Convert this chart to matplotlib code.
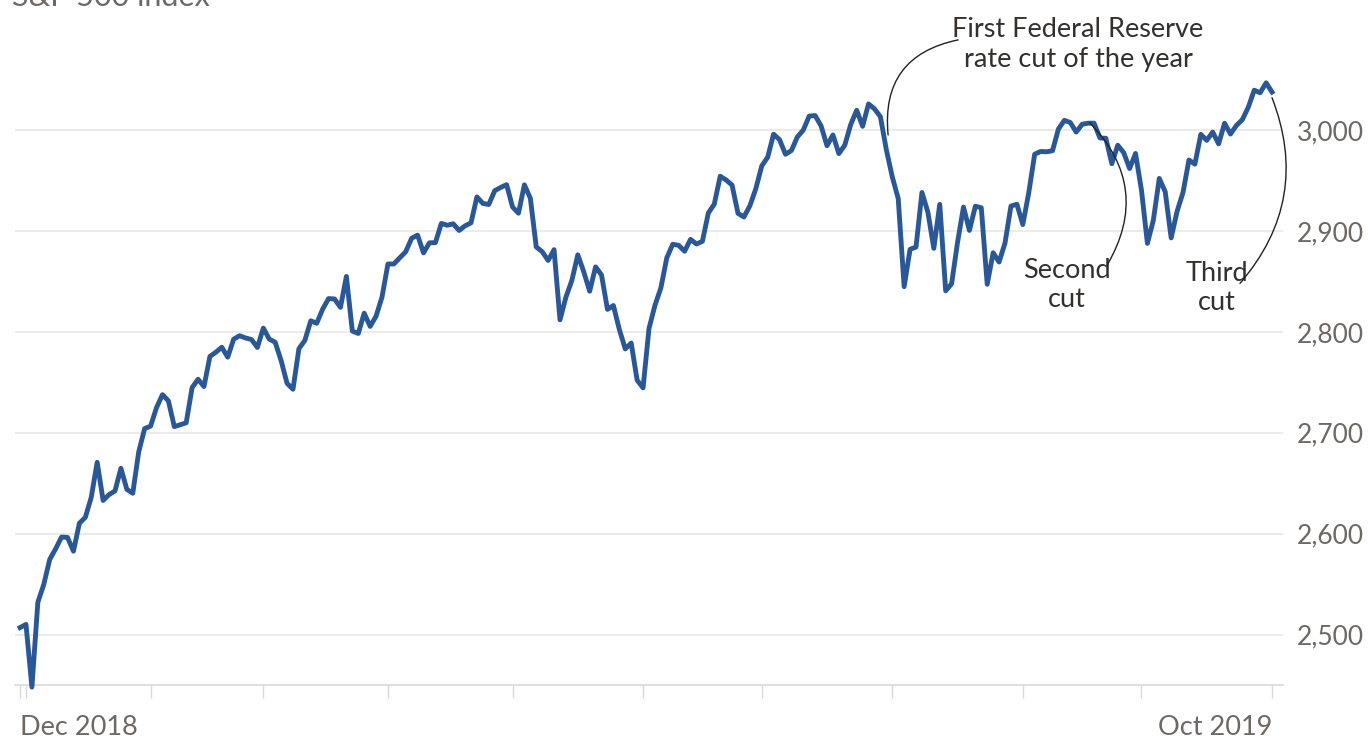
import matplotlib
matplotlib.use("Agg")
import matplotlib.pyplot as plt
import numpy as np
import pandas as pd

# S&P 500 daily closes, 31 Dec 2018 .. 31 Oct 2019 (one list per month)
DEC_2018 = [2506.85]
JAN = [2510.03, 2447.89, 2531.94, 2549.69, 2574.41, 2584.96, 2596.64, 2596.26,
       2582.61, 2610.30, 2616.10, 2635.96, 2670.71, 2632.90, 2638.70, 2642.33,
       2664.76, 2643.85, 2640.00, 2681.05, 2704.10]
FEB = [2706.53, 2724.87, 2737.70, 2731.61, 2706.05, 2707.88, 2709.80, 2744.73,
       2753.03, 2745.73, 2775.60, 2779.76, 2784.70, 2774.88, 2792.67, 2796.11,
       2793.90, 2792.38, 2784.49]
MAR = [2803.69, 2792.81, 2789.65, 2771.45, 2748.93, 2743.07, 2783.30, 2791.52,
       2810.92, 2808.48, 2822.48, 2832.94, 2832.57, 2824.23, 2854.88, 2800.71,
       2798.36, 2818.46, 2805.37, 2815.44, 2834.40]
APR = [2867.19, 2867.24, 2873.40, 2879.39, 2892.74, 2895.77, 2878.20, 2888.21,
       2888.32, 2907.41, 2905.58, 2907.06, 2900.45, 2905.03, 2907.97, 2933.68,
       2927.25, 2926.17, 2939.88, 2943.03, 2945.83]
MAY = [2923.73, 2917.52, 2945.64, 2932.47, 2884.05, 2879.42, 2870.72, 2881.40,
       2811.87, 2834.41, 2850.96, 2876.32, 2859.53, 2840.23, 2864.36, 2856.27,
       2822.24, 2826.06, 2802.39, 2783.02, 2788.86, 2752.06]
JUN = [2744.45, 2803.27, 2826.15, 2843.49, 2873.34, 2886.73, 2885.72, 2879.84,
       2891.64, 2886.98, 2889.67, 2917.75, 2926.46, 2954.18, 2950.46, 2945.35,
       2917.38, 2913.78, 2924.92, 2941.76]
JUL = [2964.33, 2973.01, 2995.82, 2990.41, 2975.95, 2979.63, 2993.07, 2999.91,
       3013.77, 3014.30, 3004.04, 2984.42, 2995.11, 2976.61, 2985.03, 3005.47,
       3019.56, 3003.67, 3025.86, 3020.97, 3013.18, 2980.38]
AUG = [2953.56, 2932.05, 2844.74, 2881.77, 2883.98, 2938.09, 2918.65, 2882.70,
       2926.32, 2840.60, 2847.60, 2888.68, 2923.65, 2900.51, 2924.43, 2922.95,
       2847.11, 2878.38, 2869.16, 2887.94, 2924.58, 2926.46]
SEP = [2906.27, 2937.78, 2976.00, 2978.71, 2978.43, 2979.39, 3000.93, 3009.57,
       3007.39, 2997.96, 3005.70, 3006.73, 3006.79, 2992.07, 2991.78, 2966.60,
       2984.87, 2977.62, 2961.79, 2976.74]
OCT = [2940.25, 2887.61, 2910.63, 2952.01, 2938.79, 2893.06, 2919.40, 2938.13,
       2970.27, 2966.15, 2995.68, 2989.69, 2997.95, 2986.20, 3006.72, 2995.99,
       3004.52, 3010.29, 3022.55, 3039.42, 3036.89, 3046.77, 3037.56]

US_HOLIDAYS = ["2019-01-01", "2019-01-21", "2019-02-18", "2019-04-19",
               "2019-05-27", "2019-07-04", "2019-09-02"]
Y_TICKS = [2500, 2600, 2700, 2800, 2900, 3000]

closes = DEC_2018 + JAN + FEB + MAR + APR + MAY + JUN + JUL + AUG + SEP + OCT
dates = pd.bdate_range("2018-12-31", "2019-10-31", freq="C", holidays=US_HOLIDAYS)
assert len(dates) == len(closes)
x = np.arange(len(closes))

LINE = "#29589a"
GREY_TXT = "#6e6864"
GRID = "#e9e7e4"

plt.rcParams["font.family"] = ["Lato", "DejaVu Sans"]

fig = plt.figure(figsize=(13.68, 7.45), dpi=100, facecolor="white")
ax = fig.add_axes([15 / 1368, 60 / 745, (1283 - 15) / 1368, (725 - 60) / 745])

ax.plot(x, closes, color=LINE, lw=3.5, solid_joinstyle="round", zorder=3,
        clip_on=False)

ax.set_xlim(-0.85, len(closes) - 1 + 1.85)
ax.set_ylim(2450, 3109)

# right-hand y axis, grid only
ax.yaxis.tick_right()
ax.set_yticks(Y_TICKS)
ax.set_yticklabels([f"{v:,}" for v in Y_TICKS])
ax.tick_params(axis="y", length=0, pad=10, labelsize=19, labelcolor=GREY_TXT)
ax.grid(axis="y", color=GRID, lw=1.2)
ax.set_axisbelow(True)

# x ticks at the first trading day of every month plus both ends
month_starts = [i for i in range(1, len(dates)) if dates[i].month != dates[i - 1].month]
xticks = [0] + month_starts + [len(dates) - 1]
ax.set_xticks(xticks)
labels = [""] * len(xticks)
labels[0] = dates[0].strftime("%b %Y")
labels[-1] = dates[-1].strftime("%b %Y")
ax.set_xticklabels(labels)
ax.tick_params(axis="x", length=9.5, width=1, color="#dcd9d6", pad=12,
               labelsize=19.5, labelcolor=GREY_TXT)
tl = ax.get_xticklabels()
tl[0].set_horizontalalignment("left")
tl[-1].set_horizontalalignment("right")

for side in ["top", "right", "left"]:
    ax.spines[side].set_visible(False)
ax.spines["bottom"].set_color("#dcd9d6")
ax.spines["bottom"].set_linewidth(1.2)

# title sits mostly above the visible area, as in the cropped original
fig.text(12 / 1368, 1 - 6 / 745, "S&P 500 index", fontsize=22,
         color=GREY_TXT, va="baseline", ha="left")

# annotations
ANN = "#33302e"
arc = dict(arrowstyle="-", color="#222222", lw=1.0, shrinkA=0, shrinkB=0)
ax.text(178.3, 3085, "First Federal Reserve\nrate cut of the year", fontsize=19.5,
        color=ANN, ha="center", va="center", linespacing=1.25)
ax.annotate("", xy=(146.3, 2995), xytext=(158.1, 3089.3),
            arrowprops=dict(arc, connectionstyle="arc3,rad=0.45"))

ax.text(176.4, 2846, "Second\ncut", fontsize=19.5, color=ANN,
        ha="center", va="center", linespacing=1.2)
ax.annotate("", xy=(180.3, 3007), xytext=(183.2, 2866),
            arrowprops=dict(arc, connectionstyle="arc3,rad=0.38"))

ax.text(201.7, 2843, "Third\ncut", fontsize=19.5, color=ANN,
        ha="center", va="center", linespacing=1.2)
ax.annotate("", xy=(211, 3032), xytext=(205.6, 2848),
            arrowprops=dict(arc, connectionstyle="arc3,rad=0.3"))

fig.savefig("out.png", dpi=100, facecolor="white")
